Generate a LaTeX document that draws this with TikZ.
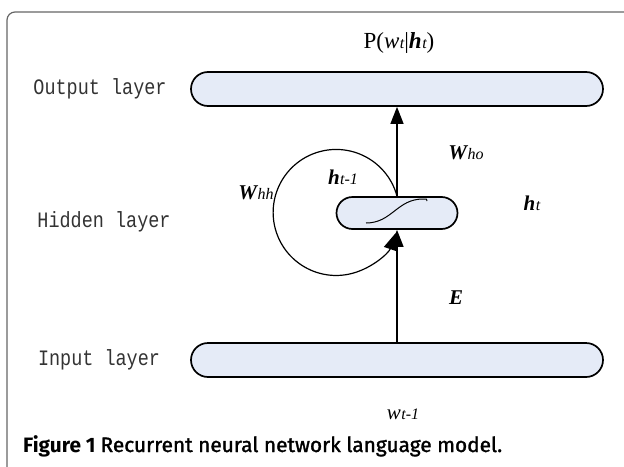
\documentclass[tikz,border=0pt]{standalone}
\usepackage{fontspec}
\usepackage{xcolor}
\usepackage{graphicx}
\setmainfont{Liberation Serif}
\newfontfamily\layerfont[FakeStretch=0.84]{Liberation Mono}
\newfontfamily\capfont{Fira Sans}
\usetikzlibrary{arrows.meta}

\newcommand{\bvec}[1]{{\bfseries\itshape #1}}
\newcommand{\lsub}[1]{{\itshape\fontsize{16}{16}\selectfont\kern0.5pt #1}}

\begin{document}
\begin{tikzpicture}[x=1pt,y=-1pt,
  bar/.style={draw,line width=1.7pt,fill=barblue,rounded corners=17pt,
    minimum width=412pt,minimum height=34pt,inner sep=0pt},
  cell/.style={bar,minimum width=121pt,minimum height=32pt,rounded corners=16pt},
  layerlbl/.style={font=\layerfont\fontsize{22}{22}\selectfont,text=black!80},
  sym/.style={font=\fontsize{21}{21}\selectfont},
  arr/.style={line width=1.2pt,-{Triangle[length=17pt,width=13pt]}}]
\definecolor{barblue}{HTML}{E5EBF7}
\useasboundingbox (0,0) rectangle (624,466);
% frame
\draw[black!60,line width=1.2pt,rounded corners=8pt] (7,470) -- (7,12) -- (628,12);
% layers
\node[bar] (outbar) at (397,89) {};
\node[bar] (inbar) at (397,360) {};
\node[cell] (hid) at (397,213) {};
\foreach \nm/\txt/\xpos/\ypos in {outlbl/Output layer/100/89,hidlbl/Hidden layer/104/222,inlbl/Input layer/99/360}
  {\node[layerlbl] (\nm) at (\xpos,\ypos) {\txt};}
% sigmoid
\draw[line width=1pt] ([shift={(-31,10)}]hid.center) .. controls +(26,0) and +(-26,0) .. ([shift={(26,-14)}]hid.center)
  .. controls +(4,0) .. ([shift={(30,-12)}]hid.center);
% connections
\draw[arr] (hid.north) -- (outbar.south);
\draw[arr] (inbar.north) -- (hid.south);
\draw[arr] (hid.north) arc[start angle=15,end angle=341,radius=63pt];
% labels
\node[sym] (prob) at (399,43) {\fontsize{23}{23}\selectfont P(\textit{w}\lsub{t}|\bvec{h}\lsub{t})};
\node[sym] (who) at (466,153) {\bvec{W}\lsub{ho}};
\node[sym] (whh) at (256,193) {\bvec{W}\lsub{hh}};
\node[sym] (hprev) at (343,177) {\bvec{h}\lsub{t-1}};
\node[sym] (hcur) at (532,203) {\bvec{h}\lsub{t}};
\node[sym] (emb) at (456,298) {\bvec{E}};
\node[sym] (wprev) at (403,414) {\textit{w}\lsub{t-1}};
\node[anchor=base west,inner sep=0pt,font=\capfont\fontsize{19}{20}\selectfont] (cap) at (23,452)
  {\resizebox{479pt}{!}{\bfseries Figure 1 \mdseries\addfontfeature{FakeBold=1.5}Recurrent neural network language model.}};
\end{tikzpicture}
\end{document}
